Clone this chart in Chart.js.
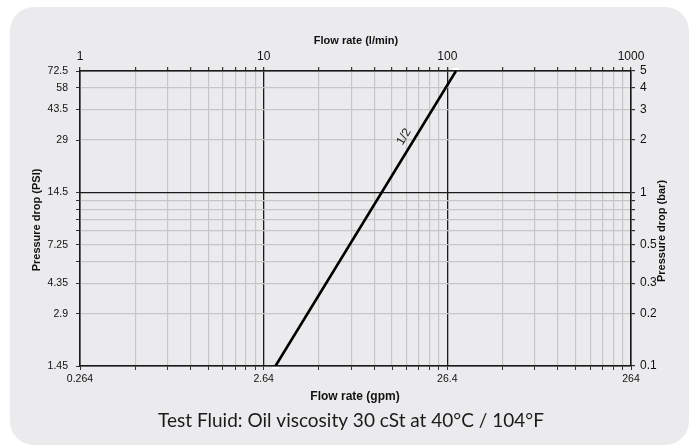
<!DOCTYPE html>
<html>
<head>
<meta charset="utf-8">
<script src="https://cdn.jsdelivr.net/npm/chart.js@4.4.1/dist/chart.umd.min.js"></script>
<style>
  html, body { margin: 0; padding: 0; background: #fff; }
  #wrap { width: 694px; height: 448px; position: relative; }
</style>
</head>
<body>
<div id="wrap"><canvas id="chart" width="694" height="448"></canvas></div>
<script>
// ---- data ----
const lineFlowLpm = [11.6, 111.4];   // flow rate (l/min) at the two ends of the curve
const lineDropBar = [0.1, 5];        // pressure drop (bar)
const lineName = '1/2';
const labelAtBar = 1.95;             // where the "1/2" label sits along the curve

const lpmTicks = [1, 2, 3, 4, 5, 6, 7, 8, 9, 10, 20, 30, 40, 50, 60, 70, 80, 90,
                  100, 200, 300, 400, 500, 600, 700, 800, 900, 1000];
const lpmLabels = ['1', '10', '100', '1000'];
const gpmPerLpm = 0.264;
const gpmLabels = ['0.264', '2.64', '26.4', '264'];

const barTicks = [0.1, 0.2, 0.3, 0.4, 0.5, 0.6, 0.7, 0.8, 0.9, 1, 2, 3, 4, 5];
const barLabels = ['0.1', '0.2', '0.3', '0.5', '1', '2', '3', '4', '5'];
const psiPerBar = 14.5;
const psiLabels = ['1.45', '2.9', '4.35', '7.25', '14.5', '29', '43.5', '58', '72.5'];

const LIGHT = '#c6c6c8';
const DARK = '#1a1a1a';

function near(a, b) { return Math.abs(a - b) / b < 0.002; }
function labelFor(list, v) {
    const hit = list.find(l => near(parseFloat(l), v));
    return hit === undefined ? '' : hit;
}
function isDecade(v) { return [1, 10, 100, 1000].some(d => near(d, v)); }

// ---- decorations ----
const decor = {
    id: 'decor',
    beforeDraw(chart) {
        const c = chart.ctx;
        c.save();
        c.fillStyle = '#fff';
        c.fillRect(0, 0, chart.width, chart.height);
        c.fillStyle = '#ebebed';
        c.beginPath();
        c.roundRect(10, 7, 679, 438, 24);
        c.fill();
        c.restore();
    },
    afterDraw(chart) {
        const c = chart.ctx;
        const a = chart.chartArea;
        const xs = chart.scales.x2, ys = chart.scales.y2;
        c.save();
        c.fillStyle = '#111';
        c.textAlign = 'center';
        c.textBaseline = 'middle';
        c.font = 'bold 11px "Liberation Sans"';
        c.fillText('Flow rate (l/min)', 356, 41);

        c.save();
        c.translate(37, 220);
        c.rotate(-Math.PI / 2);
        c.fillText('Pressure drop (PSI)', 0, 0);
        c.restore();

        c.save();
        c.translate(662, 231);
        c.rotate(-Math.PI / 2);
        c.fillText('Pressure drop (bar)', 0, 0);
        c.restore();

        c.font = 'bold 12px "Liberation Sans"';
        c.fillText('Flow rate (gpm)', 355, 397);

        c.font = '19px Lato';
        c.fillStyle = '#1a1a1a';
        c.fillText('Test Fluid: Oil viscosity 30 cSt at 40°C / 104°F', 351, 421);

        // white end caps of the curve
        c.fillStyle = '#fff';
        const xb = xs.getPixelForValue(lineFlowLpm[0]);
        const xt = xs.getPixelForValue(lineFlowLpm[1]);
        c.fillRect(xb - 3.5, a.bottom + 1, 7, 2);
        c.fillRect(xt - 3.5, a.top - 3, 7, 2);

        // curve label
        const t = Math.log(labelAtBar / lineDropBar[0]) / Math.log(lineDropBar[1] / lineDropBar[0]);
        const fl = lineFlowLpm[0] * Math.pow(lineFlowLpm[1] / lineFlowLpm[0], t);
        const px = xs.getPixelForValue(fl), py = ys.getPixelForValue(labelAtBar);
        const ang = Math.atan2(ys.getPixelForValue(lineDropBar[1]) - ys.getPixelForValue(lineDropBar[0]),
                               xt - xb);
        c.translate(px, py);
        c.rotate(ang);
        c.fillStyle = '#222';
        c.font = '12px "Liberation Sans"';
        c.fillText(lineName, 0, -10);
        c.restore();
    }
};

new Chart(document.getElementById('chart'), {
    type: 'line',
    data: {
        datasets: [{
            label: lineName,
            data: lineFlowLpm.map((f, i) => ({ x: f, y: lineDropBar[i] })),
            xAxisID: 'x2',
            yAxisID: 'y2',
            borderColor: '#000',
            borderWidth: 2.6,
            pointRadius: 0,
            tension: 0
        }]
    },
    options: {
        responsive: false,
        animation: false,
        devicePixelRatio: 1,
        layout: { padding: 0 },
        plugins: { legend: { display: false }, tooltip: { enabled: false } },
        scales: {
            x2: {
                type: 'logarithmic',
                position: 'top',
                min: 1, max: 1000,
                afterBuildTicks: s => { s.ticks = lpmTicks.map(v => ({ value: v })); },
                afterFit: s => { s.height = 71; },
                grid: {
                    color: ctx => (ctx.tick && isDecade(ctx.tick.value)) ? DARK : LIGHT,
                    lineWidth: ctx => (ctx.tick && isDecade(ctx.tick.value)) ? 1.3 : 1.2,
                    tickColor: '#333',
                    tickLength: 4
                },
                border: { color: DARK, width: 1.5 },
                ticks: {
                    autoSkip: false, maxRotation: 0, padding: 3,
                    color: '#111', font: { family: 'Liberation Sans', size: 12 },
                    callback: v => labelFor(lpmLabels, v)
                }
            },
            x: {
                type: 'logarithmic',
                position: 'bottom',
                min: gpmPerLpm, max: 1000 * gpmPerLpm,
                afterBuildTicks: s => { s.ticks = lpmTicks.map(v => ({ value: v * gpmPerLpm })); },
                afterFit: s => { s.height = 82; },
                grid: { drawOnChartArea: false, tickColor: '#333', tickLength: 4 },
                border: { color: DARK, width: 1.5 },
                ticks: {
                    autoSkip: false, maxRotation: 0, padding: 3,
                    color: '#111', font: { family: 'Liberation Sans', size: 10.5 },
                    callback: v => labelFor(gpmLabels, v)
                }
            },
            y2: {
                type: 'logarithmic',
                position: 'right',
                min: 0.1, max: 5,
                afterBuildTicks: s => { s.ticks = barTicks.map(v => ({ value: v })); },
                afterFit: s => { s.width = 63; },
                grid: {
                    color: ctx => (ctx.tick && (near(ctx.tick.value, 1) || near(ctx.tick.value, 0.1) || near(ctx.tick.value, 5))) ? DARK : LIGHT,
                    lineWidth: 1.2,
                    tickColor: '#333',
                    tickLength: 4
                },
                border: { color: DARK, width: 1.5 },
                ticks: {
                    autoSkip: false, padding: 5,
                    color: '#111', font: { family: 'Liberation Sans', size: 12 },
                    callback: v => labelFor(barLabels, v)
                }
            },
            y: {
                type: 'logarithmic',
                position: 'left',
                min: 0.1 * psiPerBar, max: 5 * psiPerBar,
                afterBuildTicks: s => { s.ticks = barTicks.map(v => ({ value: v * psiPerBar })); },
                afterFit: s => { s.width = 80; },
                grid: { drawOnChartArea: false, tickColor: '#333', tickLength: 4 },
                border: { color: DARK, width: 1.5 },
                ticks: {
                    autoSkip: false, padding: 8,
                    color: '#111', font: { family: 'Liberation Sans', size: 10.5 },
                    callback: v => labelFor(psiLabels, v)
                }
            }
        }
    },
    plugins: [decor]
});
</script>
</body>
</html>
